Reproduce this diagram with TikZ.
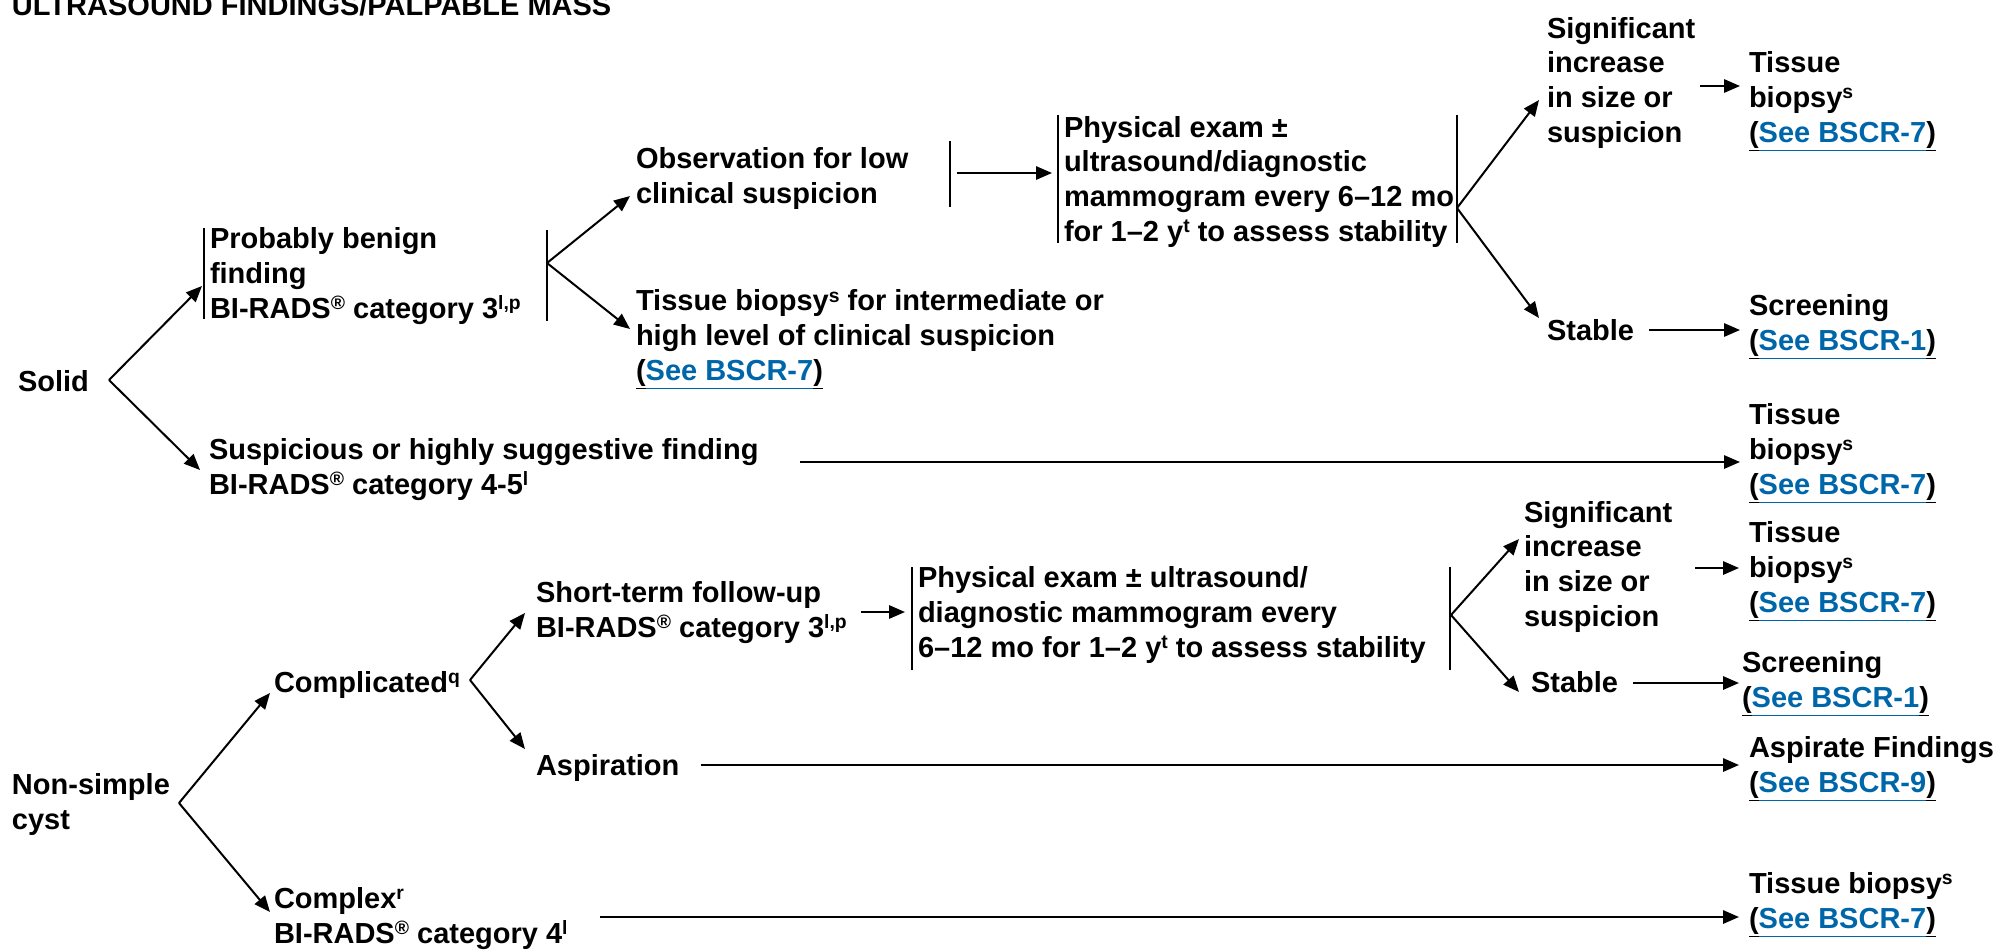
\documentclass[tikz,border=0pt]{standalone}
\usepackage{fontspec}
\setmainfont{Liberation Sans}
\usetikzlibrary{arrows.meta}
\definecolor{linkblue}{RGB}{0,102,170}
\newcommand{\seebscr}[1]{\underline{(}\textcolor{linkblue}{\underline{\vphantom{(}See BSCR-#1}}\underline{)}}
\newcommand{\sps}[1]{\raisebox{0.29em}{\fontsize{14.5}{15}\selectfont#1}}
\tikzset{every picture/.style={line width=1.5pt}}
\tikzset{txt/.style={anchor=base west,inner sep=0pt,align=left,font=\fontsize{21.75}{26}\selectfont\bfseries},
  arr/.style={-{Triangle[length=12pt,width=10pt]}}}

\begin{document}
\begin{tikzpicture}[x=0.75pt,y=0.75pt,yscale=-1,xscale=1]
\path[use as bounding box] (0,0) rectangle (1997,950);

% Text Node (placed at the baseline of its last line)
\node (title) at (11,15) [txt] {ULTRASOUND FINDINGS/PALPABLE MASS};
% Text Node
\node (solid) at (17,391) [txt] {Solid};
% Text Node
\node (benign) at (209,318) [txt] {Probably benign\\finding\\BI-RADS\sps{®} category 3\sps{l,p}};
% Text Node
\node (obs) at (635,203) [txt] {Observation for low\\clinical suspicion};
% Text Node
\node (bxint) at (635,380) [txt] {Tissue biopsy\sps{s} for intermediate or\\high level of clinical suspicion\\\seebscr{7}};
% Text Node
\node (exama) at (1063,241) [txt] {Physical exam ±\\ultrasound/diagnostic\\mammogram every 6–12 mo\\for 1–2 y\sps{t} to assess stability};
% Text Node
\node (incra) at (1546,142) [txt] {Significant\\increase\\in size or\\suspicion};
% Text Node
\node (bxa) at (1748,142) [txt] {Tissue\\biopsy\sps{s}\\\seebscr{7}};
% Text Node
\node (stablea) at (1546,340) [txt] {Stable};
% Text Node
\node (screena) at (1748,350) [txt] {Screening\\\seebscr{1}};
% Text Node
\node (susp) at (208,494) [txt] {Suspicious or highly suggestive finding\\BI-RADS\sps{®} category 4-5\sps{l}};
% Text Node
\node (bxb) at (1748,494) [txt] {Tissue\\biopsy\sps{s}\\\seebscr{7}};
% Text Node
\node (cyst) at (11,829) [txt] {Non-simple\\cyst};
% Text Node
\node (compl) at (273,692) [txt] {Complicated\sps{q}};
% Text Node
\node (short) at (535,637) [txt] {Short-term follow-up\\BI-RADS\sps{®} category 3\sps{l,p}};
% Text Node
\node (examb) at (917,657) [txt] {Physical exam ± ultrasound/\\diagnostic mammogram every\\6–12 mo for 1–2 y\sps{t} to assess stability};
% Text Node
\node (incrb) at (1523,626) [txt] {Significant\\increase\\in size or\\suspicion};
% Text Node
\node (bxc) at (1748,612) [txt] {Tissue\\biopsy\sps{s}\\\seebscr{7}};
% Text Node
\node (stableb) at (1530,692) [txt] {Stable};
% Text Node
\node (screenb) at (1741,707) [txt] {Screening\\\seebscr{1}};
% Text Node
\node (asp) at (535,775) [txt] {Aspiration};
% Text Node
\node (aspf) at (1748,792) [txt] {Aspirate Findings\\\seebscr{9}};
% Text Node
\node (cplx) at (273,943) [txt] {Complex\sps{r}\\BI-RADS\sps{®} category 4\sps{l}};
% Text Node
\node (bxd) at (1748,928) [txt] {Tissue biopsy\sps{s}\\\seebscr{7}};

% fork points and arrow ends
\coordinate (fk-solid) at (109,380);
\coordinate (fk-benign) at (547,263);
\coordinate (fk-exama) at (1457,208);
\coordinate (fk-cyst) at (179,803);
\coordinate (fk-compl) at (470,680);
\coordinate (fk-examb) at (1451,615);
\coordinate (in-benign) at (202,286);
\coordinate (in-susp) at (200,470);
\coordinate (in-obs) at (630,196);
\coordinate (in-bxint) at (630,329);
\coordinate (out-obs) at (957,173);
\coordinate (in-exama) at (1052,173);
\coordinate (in-incra) at (1539,100);
\coordinate (in-stablea) at (1539,318);
\coordinate (out-incra) at (1700,86);
\coordinate (in-bxa) at (1740,86);
\coordinate (out-stablea) at (1649,330);
\coordinate (in-screena) at (1740,330);
\coordinate (out-susp) at (800,462);
\coordinate (in-bxb) at (1740,462);
\coordinate (in-compl) at (270,693);
\coordinate (in-cplx) at (270,912);
\coordinate (in-short) at (525,613);
\coordinate (in-asp) at (525,749);
\coordinate (out-short) at (861,612);
\coordinate (in-examb) at (905,612);
\coordinate (in-incrb) at (1519,539);
\coordinate (in-stableb) at (1519,692);
\coordinate (out-incrb) at (1695,568);
\coordinate (in-bxc) at (1739,568);
\coordinate (out-stableb) at (1633,683);
\coordinate (in-screenb) at (1739,683);
\coordinate (out-asp) at (701,765);
\coordinate (in-aspf) at (1739,765);
\coordinate (out-cplx) at (600,917);
\coordinate (in-bxd) at (1739,917);

%Straight Lines (bars beside the text blocks)
\draw (204,228) -- (204,319);
\draw (547,230) -- (547,321);
\draw (950,141) -- (950,207);
\draw (1058,115) -- (1058,243);
\draw (1457,115) -- (1457,243);
\draw (912,567) -- (912,670);
\draw (1450,567) -- (1450,670);

%Arrows, solid branch
\draw [arr] (fk-solid) -- (in-benign);
\draw [arr] (fk-solid) -- (in-susp);
\draw [arr] (fk-benign) -- (in-obs);
\draw [arr] (fk-benign) -- (in-bxint);
\draw [arr] (out-obs) -- (in-exama);
\draw [arr] (fk-exama) -- (in-incra);
\draw [arr] (fk-exama) -- (in-stablea);
\draw [arr] (out-incra) -- (in-bxa);
\draw [arr] (out-stablea) -- (in-screena);
\draw [arr] (out-susp) -- (in-bxb);
%Arrows, cyst branch
\draw [arr] (fk-cyst) -- (in-compl);
\draw [arr] (fk-cyst) -- (in-cplx);
\draw [arr] (fk-compl) -- (in-short);
\draw [arr] (fk-compl) -- (in-asp);
\draw [arr] (out-short) -- (in-examb);
\draw [arr] (fk-examb) -- (in-incrb);
\draw [arr] (fk-examb) -- (in-stableb);
\draw [arr] (out-incrb) -- (in-bxc);
\draw [arr] (out-stableb) -- (in-screenb);
\draw [arr] (out-asp) -- (in-aspf);
\draw [arr] (out-cplx) -- (in-bxd);

\end{tikzpicture}
\end{document}
